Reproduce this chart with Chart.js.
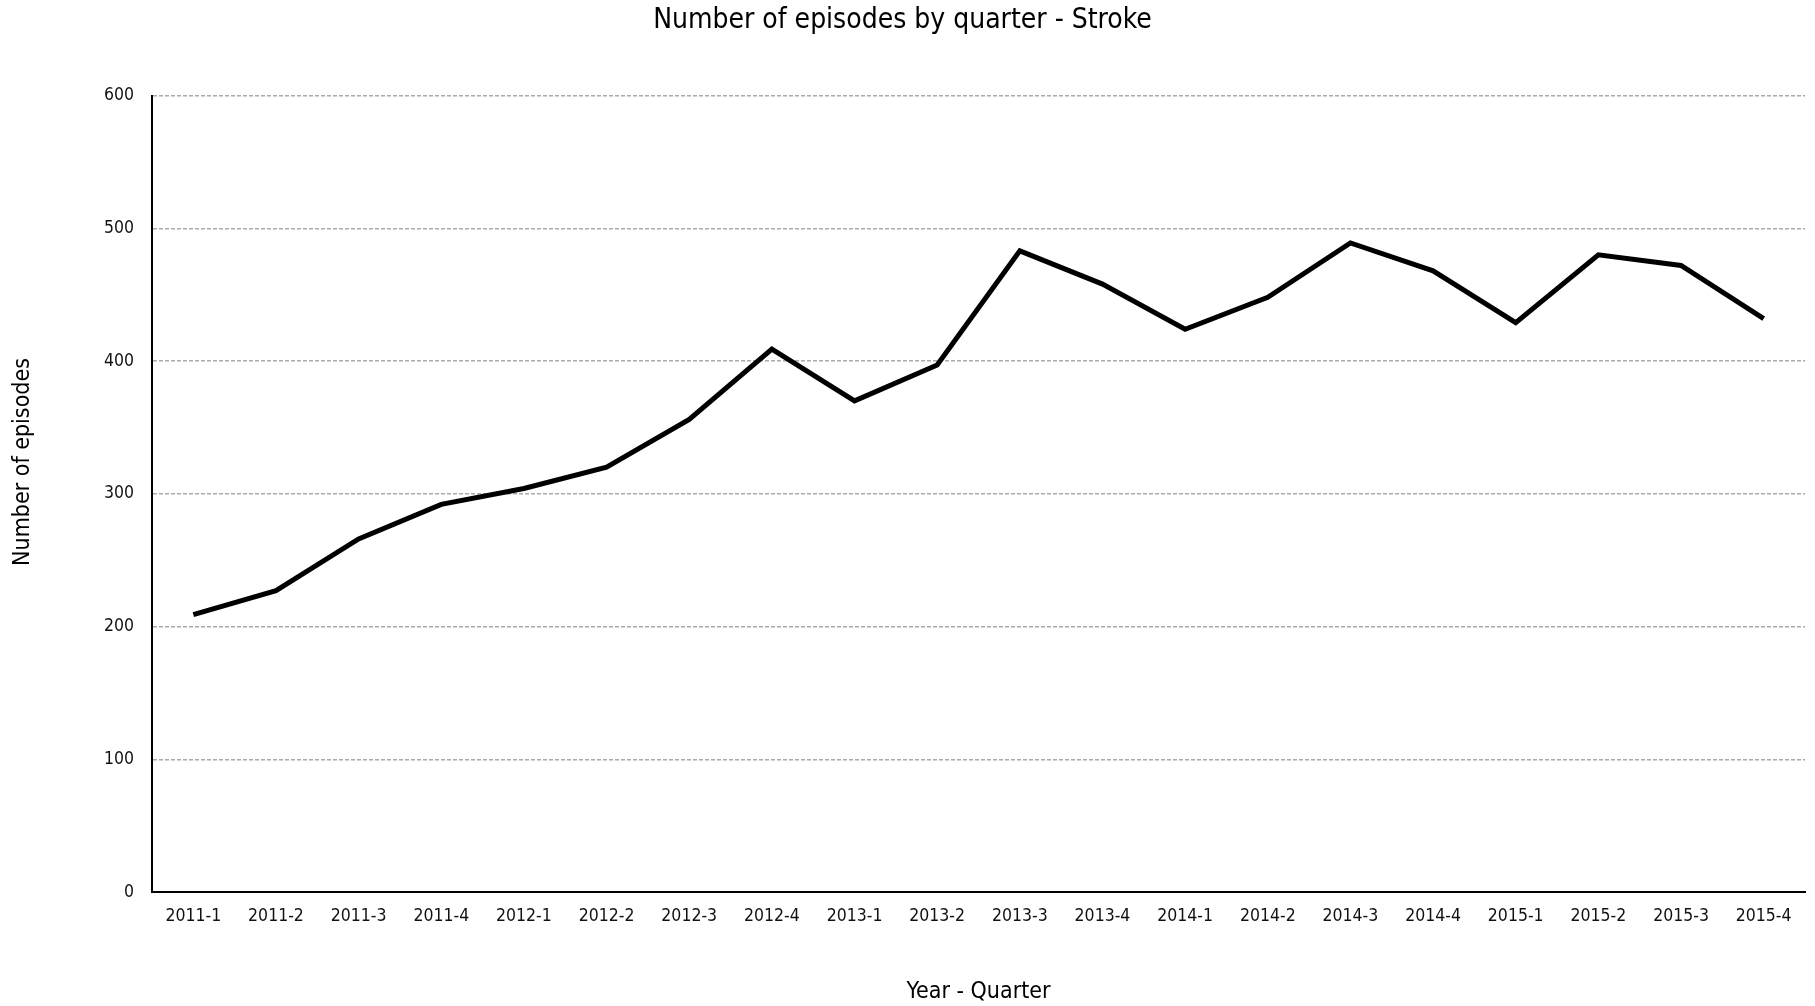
<!DOCTYPE html>
<html>
<head>
<meta charset="utf-8">
<script src="https://cdn.jsdelivr.net/npm/chart.js@4"></script>
<style>
  html, body { margin: 0; padding: 0; background: #fff; }
  #wrap { width: 1815px; height: 1006px; }
</style>
</head>
<body>
<div id="wrap"><canvas id="chart" width="1815" height="1006"></canvas></div>
<script>
const quarters = ["2011-1","2011-2","2011-3","2011-4","2012-1","2012-2","2012-3","2012-4",
  "2013-1","2013-2","2013-3","2013-4","2014-1","2014-2","2014-3","2014-4",
  "2015-1","2015-2","2015-3","2015-4"];
const episodes = [209, 227, 266, 292, 304, 320, 356, 409, 370, 397, 483, 458,
  424, 448, 489, 468, 429, 480, 472, 432];
const yTicks = [0, 100, 200, 300, 400, 500, 600];

const font = "'Liberation Sans Narrow', 'DejaVu Sans Condensed', 'Liberation Sans', sans-serif";

// y-axis title drawn by hand, sits a bit above the plot's middle
const yTitle = {
  id: "yTitle",
  afterDraw(c) {
    const ctx = c.ctx;
    ctx.save();
    ctx.translate(23, 462);
    ctx.rotate(-Math.PI / 2);
    ctx.font = "23px " + font;
    ctx.fillStyle = "#000";
    ctx.textAlign = "center";
    ctx.textBaseline = "middle";
    ctx.fillText("Number of episodes", 0, 0);
    ctx.restore();
  }
};

new Chart(document.getElementById("chart"), {
  type: "line",
  data: {
    labels: quarters,
    datasets: [{
      data: episodes,
      borderColor: "#000",
      borderWidth: 5,
      pointRadius: 0,
      fill: false,
      tension: 0
    }]
  },
  options: {
    responsive: false,
    animation: false,
    layout: { padding: { left: 0, right: 10, top: 0, bottom: 0 } },
    plugins: {
      legend: { display: false },
      tooltip: { enabled: false },
      title: {
        display: true,
        text: "Number of episodes by quarter - Stroke",
        color: "#000",
        font: { family: font, size: 28, weight: "normal" },
        padding: { top: 4, bottom: 58 }
      }
    },
    scales: {
      x: {
        offset: true,
        grid: { display: false, drawTicks: false },
        border: { color: "#000", width: 2 },
        ticks: { color: "#111", font: { family: font, size: 17.5 }, padding: 14, maxRotation: 0, autoSkip: false },
        title: {
          display: true,
          text: "Year - Quarter",
          color: "#000",
          font: { family: font, size: 23 },
          padding: { top: 44, bottom: 0 }
        },
        afterFit(s) { s.height = 114; }
      },
      y: {
        min: 0,
        max: 600,
        afterBuildTicks(s) { s.ticks = yTicks.map(v => ({ value: v })); },
        grid: { color: "#aaa", lineWidth: 1.5, drawTicks: false },
        border: { color: "#000", width: 2, dash: [4, 2] },
        ticks: { color: "#111", font: { family: font, size: 17.5 }, padding: 18 },
        afterFit(s) { s.width = 152; }
      }
    }
  },
  plugins: [yTitle]
});
</script>
</body>
</html>
